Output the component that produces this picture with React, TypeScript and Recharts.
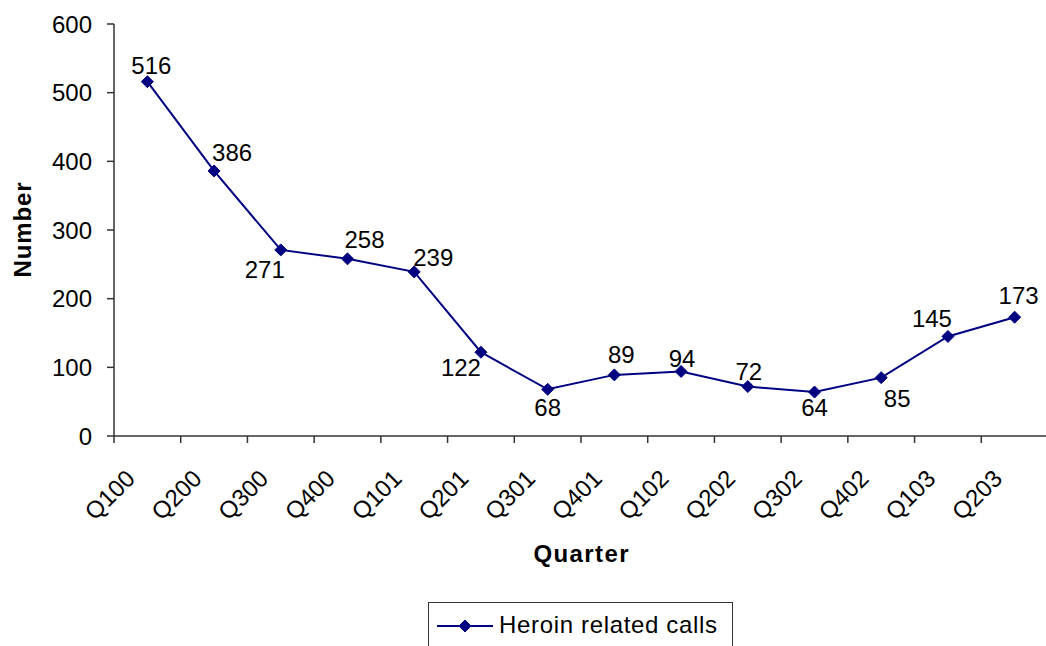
import React from "react";
import {
  Label,
  LabelList,
  Legend,
  Line,
  LineChart,
  XAxis,
  YAxis,
} from "recharts";

const quarters = [
  "Q100", "Q200", "Q300", "Q400",
  "Q101", "Q201", "Q301", "Q401",
  "Q102", "Q202", "Q302", "Q402",
  "Q103", "Q203",
];
const heroinCalls = [516, 386, 271, 258, 239, 122, 68, 89, 94, 72, 64, 85, 145, 173];
const yTicks = [0, 100, 200, 300, 400, 500, 600];
const seriesName = "Heroin related calls";

// where each value label sits relative to its marker (dx, dy of label centre)
const labelOffsets: [number, number][] = [
  [4, -16], [18, -19], [-16, 19], [17, -19], [19, -15], [-20, 15], [0, 18],
  [7, -21], [1, -13], [1, -15], [0, 15], [16, 21], [-16, -18], [4, -22],
];

const rows = quarters.map((q, i) => ({ quarter: q, calls: heroinCalls[i] }));

const FONT = "'Liberation Sans', Arial, sans-serif";
const NAVY = "#000080";
const AXIS = "#333";

function Diamond({ cx, cy, r = 6 }: { cx: number; cy: number; r?: number }) {
  return (
    <polygon
      points={`${cx},${cy - r} ${cx + r},${cy} ${cx},${cy + r} ${cx - r},${cy}`}
      fill={NAVY}
      stroke={NAVY}
      strokeWidth={1}
    />
  );
}

function QuarterTick(props: any) {
  const { x, y, payload } = props;
  const axisY = y - 9;
  const half = payload.offset || 33.36;
  return (
    <g>
      <line x1={x - half} x2={x - half} y1={axisY} y2={axisY + 7} stroke={AXIS} strokeWidth={1.5} />
      <text
        x={0}
        y={0}
        transform={`translate(${x - 11},${axisY + 44}) rotate(-45)`}
        textAnchor="end"
        fontFamily={FONT}
        fontSize={24}
        fill="#000"
      >
        {payload.value}
      </text>
    </g>
  );
}

function ValueLabel(props: any) {
  const { x, y, value, index } = props;
  const [dx, dy] = labelOffsets[index] ?? [0, -16];
  return (
    <text
      x={x + dx}
      y={y + dy}
      dy="0.36em"
      textAnchor="middle"
      fontFamily={FONT}
      fontSize={24}
      fill="#000"
    >
      {value}
    </text>
  );
}

function LegendBox() {
  return (
    <div
      style={{
        width: 305,
        height: 60,
        boxSizing: "border-box",
        border: `1.5px solid ${AXIS}`,
        background: "#fff",
      }}
    >
      <svg width={302} height={57} style={{ display: "block" }}>
        <line x1={8} x2={64} y1={23} y2={23} stroke={NAVY} strokeWidth={2} />
        <Diamond cx={36} cy={23} />
        <text
          x={70}
          y={30}
          fontFamily={FONT}
          fontSize={24}
          fill="#000"
          textLength={218}
          lengthAdjust="spacing"
        >
          {seriesName}
        </text>
      </svg>
    </div>
  );
}

export default function App() {
  return (
    <div
      style={{
        position: "fixed",
        left: 0,
        top: 0,
        width: 1046,
        height: 646,
        overflow: "hidden",
        background: "#fff",
      }}
    >
      <LineChart
        width={1060}
        height={646}
        data={rows}
        margin={{ top: 24, right: 12, bottom: 0, left: 0 }}
      >
        <XAxis
          dataKey="quarter"
          scale="band"
          interval={0}
          height={210}
          tickLine={false}
          tickSize={7}
          tickMargin={2}
          axisLine={{ stroke: AXIS, strokeWidth: 1.5 }}
          tick={<QuarterTick />}
        >
          <Label
            content={({ viewBox }: any) => (
              <text
                x={viewBox.x + viewBox.width / 2}
                y={562}
                textAnchor="middle"
                fontFamily={FONT}
                fontWeight="bold"
                fontSize={24}
                fill="#000"
                textLength={95}
                lengthAdjust="spacing"
              >
                Quarter
              </text>
            )}
          />
        </XAxis>
        <YAxis
          domain={[0, 600]}
          ticks={yTicks}
          width={114}
          tickSize={7}
          tickMargin={15}
          interval={0}
          axisLine={{ stroke: AXIS, strokeWidth: 1.5 }}
          tickLine={{ stroke: AXIS, strokeWidth: 1.5 }}
          tick={{ fontFamily: FONT, fontSize: 24, fill: "#000" }}
        >
          <Label
            content={({ viewBox }: any) => {
              const cy = viewBox.y + viewBox.height / 2;
              return (
                <text
                  x={0}
                  y={0}
                  transform={`translate(31,${cy}) rotate(-90)`}
                  textAnchor="middle"
                  fontFamily={FONT}
                  fontWeight="bold"
                  fontSize={24}
                  fill="#000"
                  textLength={95}
                  lengthAdjust="spacing"
                >
                  Number
                </text>
              );
            }}
          />
        </YAxis>
        <Legend
          layout="horizontal"
          verticalAlign="middle"
          align="center"
          wrapperStyle={{ position: "absolute", left: 428, top: 602, width: 305, height: 60 }}
          content={() => <LegendBox />}
        />
        <Line
          type="linear"
          dataKey="calls"
          name={seriesName}
          stroke={NAVY}
          strokeWidth={2}
          isAnimationActive={false}
          dot={(p: any) => <Diamond key={p.index} cx={p.cx} cy={p.cy} />}
          activeDot={false}
        >
          <LabelList dataKey="calls" content={<ValueLabel />} />
        </Line>
      </LineChart>
    </div>
  );
}
